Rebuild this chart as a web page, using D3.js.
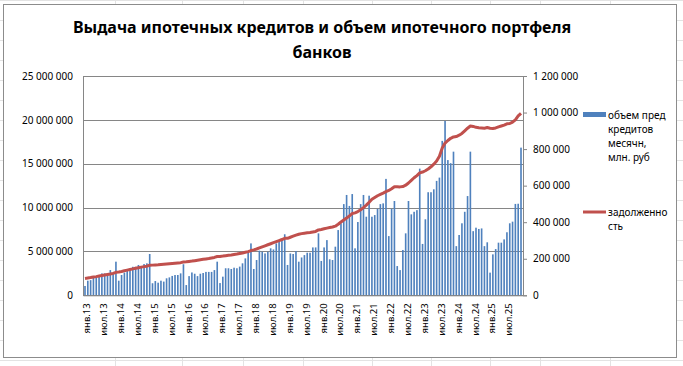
<!DOCTYPE html>
<html>
<head>
<meta charset="utf-8">
<script src="https://cdn.jsdelivr.net/npm/d3@7"></script>
<style>
  body { margin: 0; background: #fff; }
  text { font-family: "Noto Sans", sans-serif; fill: #000; }
</style>
</head>
<body>
<div id="visual"></div>
<script>
// месяцы и годы для подписей оси
var monthNames = ["янв","фев","мар","апр","май","июн","июл","авг","сен","окт","ноя","дек"];
var years = ["13","14","15","16","17","18","19","20","21","22","23","24","25"];

// объем предоставленных кредитов за месяц, тыс. млн руб (по годам)
var issuance = [
  [51, 80, 83, 98, 102, 106, 120, 120, 117, 138, 117, 184],
  [80, 111, 124, 138, 147, 156, 156, 166, 156, 171, 175, 226],
  [66, 78, 69, 80, 75, 93, 98, 106, 111, 111, 120, 170],
  [56, 105, 125, 118, 105, 118, 122, 128, 128, 128, 138, 184],
  [67, 102, 148, 148, 144, 151, 148, 157, 175, 202, 236, 284],
  [144, 193, 244, 238, 229, 238, 257, 251, 284, 302, 302, 334],
  [166, 229, 226, 242, 184, 207, 220, 233, 233, 262, 262, 339],
  [188, 262, 302, 197, 193, 266, 357, 394, 499, 549, 489, 554],
  [257, 401, 499, 549, 430, 545, 430, 439, 473, 499, 503, 637],
  [324, 473, 516, 160, 138, 248, 339, 516, 443, 457, 466, 693],
  [281, 416, 564, 564, 580, 626, 644, 845, 954, 740, 723, 786],
  [269, 330, 394, 457, 543, 786, 351, 370, 363, 366, 269, 290],
  [124, 224, 253, 288, 288, 306, 345, 394, 403, 500, 501, 808]
];

// задолженность, млн млн руб (по годам)
var debt = [
  [1.92, 1.97, 2.02, 2.08, 2.13, 2.19, 2.25, 2.31, 2.37, 2.43, 2.50, 2.62],
  [2.66, 2.72, 2.80, 2.87, 2.94, 3.01, 3.08, 3.15, 3.21, 3.27, 3.32, 3.42],
  [3.44, 3.46, 3.48, 3.51, 3.54, 3.57, 3.60, 3.63, 3.66, 3.69, 3.72, 3.80],
  [3.82, 3.86, 3.90, 3.95, 4.00, 4.05, 4.10, 4.15, 4.20, 4.26, 4.32, 4.42],
  [4.43, 4.47, 4.52, 4.56, 4.60, 4.65, 4.70, 4.76, 4.82, 4.90, 4.98, 5.10],
  [5.18, 5.28, 5.40, 5.52, 5.64, 5.76, 5.88, 6.00, 6.12, 6.24, 6.36, 6.50],
  [6.50, 6.62, 6.74, 6.86, 6.96, 7.03, 7.08, 7.12, 7.16, 7.22, 7.28, 7.45],
  [7.50, 7.58, 7.66, 7.72, 7.78, 7.88, 8.10, 8.35, 8.58, 8.80, 9.05, 9.32],
  [9.40, 9.55, 9.75, 10.00, 10.28, 10.60, 10.95, 11.15, 11.35, 11.50, 11.65, 11.82],
  [11.95, 12.15, 12.38, 12.38, 12.36, 12.40, 12.55, 12.80, 13.10, 13.40, 13.65, 13.95],
  [14.05, 14.20, 14.40, 14.65, 14.95, 15.30, 15.85, 16.80, 17.35, 17.65, 17.90, 18.05],
  [18.10, 18.25, 18.45, 18.75, 19.05, 19.30, 19.25, 19.15, 19.10, 19.08, 19.05, 19.12],
  [19.04, 19.02, 19.08, 19.20, 19.30, 19.40, 19.55, 19.58, 19.75, 20.00, 20.45, 20.75]
];

var leftTicks = [0, 5000000, 10000000, 15000000, 20000000, 25000000];
var rightTicks = [0, 200000, 400000, 600000, 800000, 1000000, 1200000];
var legendBar = ["объем пред", "кредитов", "месячн,", "млн. руб"];
var legendLine = ["задолженно", "сть"];
var titleLines = ["Выдача ипотечных кредитов и объем ипотечного портфеля", "банков"];

// собрать таблицу
var data = [];
years.forEach(function(yy, yi) {
  monthNames.forEach(function(m, mi) {
    data.push({ cat: m + "." + yy, bar: issuance[yi][mi] * 1000, line: debt[yi][mi] * 1000000 });
  });
});

var W = 683, H = 366;
var plot = {left: 83, right: 523, top: 76, bottom: 295.3};

var loc = d3.formatLocale({decimal: ",", thousands: " ", grouping: [3], currency: ["", ""]});
var fmt = loc.format(",");

var svg = d3.select("#visual").append("svg")
  .attr("width", W).attr("height", H);

// фон листа excel
var sheet = svg.append("g").attr("stroke", "#e3e3e3").attr("stroke-width", 1);
[115, 182, 243, 303, 372, 431, 490, 540, 610].forEach(function(x) {
  sheet.append("line").attr("x1", x + 0.5).attr("x2", x + 0.5).attr("y1", 0).attr("y2", H);
});
d3.range(0, H, 20).forEach(function(y) {
  sheet.append("line").attr("x1", 0).attr("x2", W).attr("y1", y + 0.5).attr("y2", y + 0.5);
});

// область диаграммы
svg.append("rect")
  .attr("x", 3.5).attr("y", 4.5).attr("width", 673).attr("height", 353)
  .attr("fill", "#fff").attr("stroke", "#8c8c8c");

var x = d3.scaleBand()
  .domain(data.map(function(d) { return d.cat; }))
  .range([plot.left, plot.right])
  .padding(0.42);

var yL = d3.scaleLinear().domain([0, 25000000]).range([plot.bottom, plot.top]);
var yR = d3.scaleLinear().domain([0, 1200000]).range([plot.bottom, plot.top]);

// сетка
svg.append("g").selectAll("line")
  .data(leftTicks)
  .enter().append("line")
  .attr("x1", plot.left).attr("x2", plot.right)
  .attr("y1", function(d) { return Math.round(yL(d)) + 0.5; })
  .attr("y2", function(d) { return Math.round(yL(d)) + 0.5; })
  .attr("stroke", "#868686");

// левая ось
var axL = svg.append("g")
  .attr("transform", "translate(" + plot.left + ",0)")
  .call(d3.axisLeft(yL).tickValues(leftTicks).tickFormat(fmt).tickSize(0).tickPadding(10));
axL.select(".domain").attr("stroke", "#868686");
axL.selectAll("text").style("font-size", "10px").style("font-family", "Noto Sans");

// правая ось
var axR = svg.append("g")
  .attr("transform", "translate(" + plot.right + ",0)")
  .call(d3.axisRight(yR).tickValues(rightTicks).tickFormat(fmt).tickSize(4).tickPadding(6));
axR.select(".domain").attr("stroke", "#868686");
axR.selectAll("line").attr("stroke", "#868686");
axR.selectAll("text").style("font-size", "10px").style("font-family", "Noto Sans");

// столбцы
svg.append("g").selectAll("rect")
  .data(data)
  .enter().append("rect")
  .attr("x", function(d) { return x(d.cat); })
  .attr("width", x.bandwidth())
  .attr("y", function(d) { return yR(d.bar); })
  .attr("height", function(d) { return yR(0) - yR(d.bar); })
  .attr("fill", "#4f81bd");

// нижняя ось
var every6 = data.filter(function(d, i) { return i % 6 === 0; }).map(function(d) { return d.cat; });
var axB = svg.append("g")
  .attr("transform", "translate(0," + plot.bottom + ")")
  .call(d3.axisBottom(x).tickValues(every6).tickSize(0));
axB.select(".domain").attr("stroke", "#868686");
axB.selectAll("text")
  .style("font-size", "9.5px").style("font-family", "Noto Sans")
  .attr("transform", "rotate(-90)")
  .attr("text-anchor", "end")
  .attr("x", -8).attr("y", 2).attr("dy", "0.35em");

// линия задолженности
var line = d3.line()
  .x(function(d) { return x(d.cat) + x.bandwidth() / 2; })
  .y(function(d) { return yL(d.line); });
svg.append("path")
  .datum(data)
  .attr("fill", "none")
  .attr("stroke", "#c0504d")
  .attr("stroke-width", 3)
  .attr("stroke-linejoin", "round")
  .attr("d", line);

// заголовок
svg.append("g").selectAll("text")
  .data(titleLines)
  .enter().append("text")
  .attr("x", 322).attr("y", function(d, i) { return 33 + i * 25; })
  .attr("text-anchor", "middle")
  .style("font-size", "16px").style("font-weight", "bold")
  .text(function(d) { return d; });

// легенда
svg.append("rect").attr("x", 583).attr("y", 112).attr("width", 23).attr("height", 5).attr("fill", "#4f81bd");
svg.append("g").selectAll("text")
  .data(legendBar)
  .enter().append("text")
  .attr("x", 608).attr("y", function(d, i) { return 115 + i * 14; })
  .attr("dy", "0.35em")
  .style("font-size", "10px")
  .text(function(d) { return d; });

svg.append("line").attr("x1", 583).attr("x2", 606).attr("y1", 212).attr("y2", 212)
  .attr("stroke", "#c0504d").attr("stroke-width", 3);
svg.append("g").selectAll("text")
  .data(legendLine)
  .enter().append("text")
  .attr("x", 608).attr("y", function(d, i) { return 212 + i * 14; })
  .attr("dy", "0.35em")
  .style("font-size", "10px")
  .text(function(d) { return d; });
</script>
</body>
</html>
